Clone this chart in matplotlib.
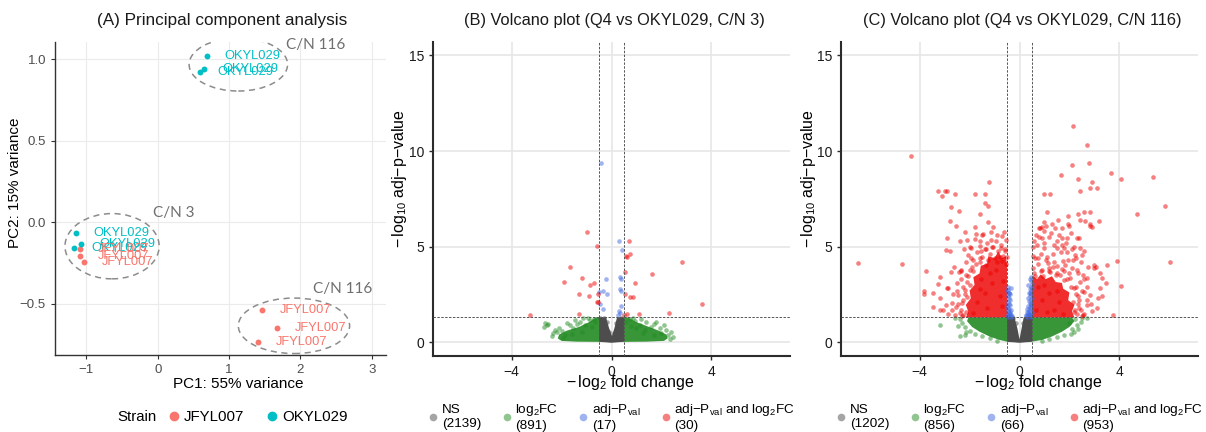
import matplotlib
matplotlib.use("Agg")
import matplotlib.pyplot as plt
from matplotlib.patches import Ellipse
from matplotlib.lines import Line2D
import numpy as np

plt.rcParams['font.family'] = ['Liberation Sans', 'DejaVu Sans']
plt.rcParams['mathtext.fontset'] = 'custom'
plt.rcParams['mathtext.rm'] = 'Liberation Sans'
plt.rcParams['mathtext.it'] = 'Liberation Sans:italic'
plt.rcParams['mathtext.bf'] = 'Liberation Sans:bold'

# ---------------- PCA data ----------------
pca_strain = ['OKYL029', 'OKYL029', 'OKYL029', 'OKYL029', 'OKYL029', 'OKYL029',
              'JFYL007', 'JFYL007', 'JFYL007', 'JFYL007', 'JFYL007', 'JFYL007']
pca_cn = [3, 3, 3, 116, 116, 116, 3, 3, 3, 116, 116, 116]
pc1 = [-1.152, -1.073, -1.175, 0.690, 0.650, 0.590, -1.096, -1.083, -1.035, 1.455, 1.670, 1.410]
pc2 = [-0.064, -0.135, -0.156, 1.022, 0.940, 0.920, -0.166, -0.205, -0.242, -0.536, -0.648, -0.736]
strain_levels = ['JFYL007', 'OKYL029']
pc1_var, pc2_var = 55, 15

# annotation ellipses (centre x, centre y, width, height) and their labels
ellipse_specs = [(1.13, 0.968, 1.38, 0.325), (-0.64, -0.146, 1.32, 0.40), (1.91, -0.634, 1.56, 0.34)]
ellipse_labels = ['C/N 116', 'C/N 3', 'C/N 116']
ellipse_label_pos = [(1.80, 1.09), (-0.07, 0.06), (2.17, -0.41)]

# ---------------- volcano thresholds ----------------
fc_cut = 0.5
p_cut = 0.05

# ---------------- Volcano B (C/N 3) ----------------
b_counts = [2139, 891, 17, 30]
b_red = [(-1.00, 5.75), (-0.60, 5.03), (0.72, 5.31), (0.57, 4.53), (0.73, 4.61), (0.64, 4.47),
         (2.84, 4.18), (-1.66, 3.92), (0.55, 3.69), (1.63, 3.55), (-1.17, 3.37), (-1.91, 3.15),
         (-0.87, 2.99), (-0.72, 3.11), (0.94, 3.11), (-1.32, 2.52), (-0.90, 2.43), (0.55, 2.52),
         (0.73, 2.38), (0.87, 2.37), (-0.58, 2.12), (-0.55, 2.09), (-0.55, 2.54), (3.64, 1.99),
         (2.32, 1.54), (1.09, 1.49), (-1.31, 1.46), (-3.28, 1.42), (0.63, 1.48), (0.52, 1.40)]
b_blue = [(0.29, 5.31), (0.42, 4.82), (-0.23, 3.29), (0.33, 3.39), (0.37, 3.30), (-0.49, 2.64),
          (-0.33, 2.67), (-0.17, 2.52), (0.36, 2.77), (0.40, 2.70), (-0.47, 1.98), (-0.33, 1.72),
          (0.40, 1.89), (0.31, 1.63), (0.36, 1.51), (0.28, 1.42), (-0.44, 9.38)]
b_green_core_l = [(-0.5, 1.3), (-0.62, 1.3), (-0.9, 1.05), (-1.3, 0.8), (-1.8, 0.6), (-2.1, 0.4),
                  (-2.15, 0.2), (-2.0, 0.07), (-1.4, 0.03), (-0.5, 0.02)]
b_green_core_r = [(0.5, 1.3), (0.65, 1.3), (1.0, 1.05), (1.5, 0.8), (1.9, 0.6), (2.2, 0.4),
                  (2.25, 0.2), (2.1, 0.07), (1.4, 0.03), (0.5, 0.02)]
b_green = [(-2.67, 0.99), (-2.60, 0.90), (-2.71, 0.82), (-2.53, 0.96), (-2.27, 0.64), (-2.20, 0.52),
           (-2.00, 0.59), (-2.33, 0.47), (-1.67, 0.90), (-1.47, 1.16), (-1.27, 1.08), (-1.07, 0.90),
           (-0.87, 1.16), (-0.67, 1.08), (-1.13, 1.25), (-1.53, 0.73), (-1.87, 0.38), (-1.93, 0.21),
           (-2.40, 0.30), (-1.80, 1.00), (-0.95, 1.28), (-0.70, 1.22), (-2.10, 0.75), (-1.40, 0.95),
           (0.60, 1.08), (0.87, 1.25), (1.13, 0.90), (1.40, 1.08), (1.60, 0.82), (1.80, 1.08),
           (1.93, 0.73), (2.09, 0.90), (2.20, 0.64), (2.40, 0.55), (2.47, 0.29), (2.00, 0.47),
           (2.27, 0.38), (1.00, 0.73), (1.33, 0.64), (0.75, 1.20), (1.20, 1.22), (2.35, 0.15),
           (1.70, 0.95), (0.95, 1.10), (-1.20, 0.55), (-0.80, 0.80), (1.25, 0.50), (0.80, 0.85),
           (-1.60, 0.45), (1.70, 0.40)]
b_ns_core = [(-0.5, 1.3), (-0.22, 1.3), (-0.1, 0.75), (0.02, 0.33), (0.12, 0.75), (0.22, 1.3),
             (0.5, 1.3), (0.5, 0.02), (0.25, 0.0), (0.0, -0.03), (-0.25, 0.0), (-0.5, 0.02)]
b_ns = [(-0.45, 1.27), (-0.30, 1.25), (0.40, 1.28), (0.30, 1.20), (-0.18, 1.05), (0.18, 1.00),
        (-0.12, 0.55), (0.10, 0.50)]

# ---------------- Volcano C (C/N 116) ----------------
c_counts = [1202, 856, 66, 953]
c_red_core_l = [(-0.5, 1.3), (-2.15, 1.3), (-2.05, 1.6), (-2.15, 1.95), (-1.95, 2.3), (-2.0, 2.7),
                (-1.8, 3.0), (-1.85, 3.4), (-1.6, 3.6), (-1.55, 4.0), (-1.3, 4.1), (-1.25, 4.5),
                (-1.0, 4.4), (-0.85, 4.75), (-0.7, 4.4), (-0.55, 4.5), (-0.5, 4.1)]
c_red_core_r = [(0.5, 1.3), (2.2, 1.3), (2.1, 1.6), (2.2, 1.95), (1.95, 2.2), (2.0, 2.6),
                (1.75, 2.8), (1.7, 3.1), (1.45, 3.15), (1.3, 3.45), (1.05, 3.3), (0.85, 3.55),
                (0.7, 3.3), (0.55, 3.45), (0.5, 3.0)]
c_red = [(-4.33, 9.75), (-1.24, 8.38), (-3.27, 7.90), (-3.10, 7.64), (-2.97, 7.90), (-2.92, 7.90),
         (-2.60, 7.76), (-1.77, 7.76), (-1.39, 7.76), (-1.39, 7.29), (-1.27, 7.10), (-2.76, 7.09),
         (-2.43, 6.88), (-1.57, 6.69), (-2.77, 6.34), (-1.25, 6.30), (-2.53, 6.08), (-6.47, 4.13),
         (-4.69, 4.07), (-3.76, 3.72), (-3.20, 3.41), (-3.83, 2.68), (-3.83, 2.50), (-3.47, 2.55),
         (-3.28, 3.03), (-2.92, 2.82), (-2.85, 2.84), (-3.20, 2.30), (-3.47, 1.86), (-3.17, 1.67),
         (-3.08, 1.67), (-2.96, 1.95), (-2.92, 5.47), (-2.96, 4.82), (-2.80, 4.77), (-2.20, 5.78),
         (-2.09, 5.35), (-1.76, 5.64), (-1.49, 5.60), (-1.16, 5.78), (-2.23, 4.90), (-2.63, 3.95),
         (-2.76, 3.69), (-2.43, 3.69), (-2.36, 3.70), (-2.16, 4.20),
         (-2.05, 4.55), (-1.95, 4.95), (-1.85, 4.30), (-1.70, 4.70), (-1.60, 5.05), (-1.50, 4.45),
         (-1.40, 4.85), (-1.30, 5.20), (-1.20, 4.60), (-1.10, 5.00), (-1.00, 4.40), (-0.95, 5.30),
         (-0.85, 4.75), (-0.75, 5.10), (-0.65, 4.50), (-0.60, 4.90), (-0.55, 5.35), (-0.70, 4.25),
         (-0.90, 4.20), (-1.25, 4.30), (-2.35, 3.30), (-2.25, 2.90), (-2.45, 2.45), (-2.30, 2.05),
         (-2.55, 1.85), (-2.40, 1.55), (-2.60, 1.40), (-2.25, 1.45), (-2.15, 3.50), (-2.00, 3.80),
         (-2.20, 2.50), (-2.50, 3.10), (-2.70, 2.05), (-2.35, 3.80), (-1.90, 3.95), (-2.10, 3.15),
         (-1.60, 4.20), (-1.35, 4.05), (-0.80, 4.45), (-0.55, 4.10), (-1.80, 5.40), (-0.70, 5.55),
         (-2.30, 1.35), (-2.35, 1.70), (-2.28, 2.20), (-2.45, 2.00), (-2.20, 2.75), (-2.00, 3.00),
         (-2.05, 3.45), (-1.85, 3.70), (-1.75, 4.10), (-1.60, 4.40), (-1.55, 4.75), (-1.35, 4.90),
         (-1.05, 5.00), (-0.75, 4.95), (-0.60, 4.75), (-0.52, 4.45), (-2.15, 1.60), (-2.50, 2.70),
         (-2.65, 2.50), (-2.70, 1.70), (-2.85, 1.50), (-2.10, 2.35), (-1.95, 4.40), (-1.15, 5.35),
         (-0.90, 5.60), (-1.60, 5.30), (-1.45, 5.65), (-0.62, 5.75), (-1.05, 6.00), (-1.80, 6.00),
         (-2.00, 5.00), (-2.40, 5.30),
         (-1.70, 2.10), (-1.40, 2.60), (-1.10, 3.10), (-0.80, 2.40), (-1.55, 3.30), (-0.95, 3.80),
         (-1.30, 1.80), (-0.65, 3.20), (-1.85, 1.55), (-1.20, 3.60), (-0.70, 1.90), (-1.60, 2.80),
         (2.16, 11.30), (2.71, 10.31), (2.79, 9.39), (2.11, 9.25), (1.67, 8.77), (3.68, 8.83),
         (4.07, 8.53), (5.33, 8.62), (2.36, 8.55), (2.92, 8.38), (2.81, 8.06), (3.12, 8.06),
         (2.44, 7.90), (0.99, 7.73), (1.23, 7.73), (5.81, 7.14), (1.11, 6.79), (2.36, 6.71),
         (2.59, 6.82), (2.84, 6.79), (1.95, 6.60), (4.71, 6.68), (2.41, 6.39), (2.61, 6.33),
         (3.17, 6.33), (2.84, 6.18), (2.92, 6.04), (1.95, 6.16), (0.97, 6.27), (1.07, 6.07),
         (0.81, 5.98), (0.92, 6.04), (1.71, 5.98), (6.01, 4.18), (3.91, 4.25), (4.07, 2.94),
         (3.73, 1.43), (3.51, 4.04), (3.48, 3.08), (3.24, 3.60), (3.32, 3.38), (3.31, 2.43),
         (3.13, 2.30), (2.91, 1.64), (3.00, 4.04), (3.08, 3.95), (2.73, 3.95), (2.84, 6.09),
         (2.37, 5.43), (2.44, 4.91), (2.57, 4.77), (2.24, 4.56), (2.71, 3.34), (2.55, 1.43),
         (0.77, 5.96), (1.44, 5.99), (0.91, 5.43), (1.71, 5.43), (1.91, 5.46), (2.31, 5.43),
         (0.97, 4.94), (1.51, 4.91), (1.77, 4.94), (2.11, 4.87), (2.28, 4.42), (2.51, 4.56),
         (0.64, 4.39), (1.11, 4.47), (1.37, 4.21), (1.84, 4.04), (1.24, 3.69), (1.64, 3.52),
         (2.04, 3.34), (2.44, 3.17), (2.17, 2.82), (2.57, 2.65), (2.84, 2.47), (2.37, 2.21),
         (2.71, 1.95), (3.11, 1.77), (2.24, 1.69), (3.24, 2.82), (2.97, 3.86),
         (0.60, 3.60), (0.75, 4.10), (0.90, 3.80), (1.05, 4.30), (1.20, 3.90), (1.35, 4.60),
         (1.50, 4.00), (1.65, 4.70), (1.80, 3.70), (1.95, 4.30), (2.10, 3.90), (0.70, 5.10),
         (0.85, 4.60), (1.00, 5.20), (1.20, 5.50), (1.40, 5.10), (1.60, 5.60), (1.85, 5.20),
         (2.05, 5.70), (2.20, 5.00), (0.65, 5.60), (1.30, 6.20), (1.55, 6.40), (2.00, 6.10),
         (0.55, 4.50), (1.75, 4.25), (0.95, 3.45), (1.45, 3.50), (1.90, 3.30), (2.25, 2.90),
         (2.35, 2.40), (2.15, 2.10), (2.40, 1.80), (2.60, 1.50), (2.20, 1.60), (2.70, 2.20),
         (2.50, 2.70), (2.60, 3.30), (2.35, 3.60), (2.45, 4.20),
         (2.30, 1.50), (2.35, 2.00), (2.25, 2.50), (2.05, 2.90), (1.80, 3.25), (1.50, 3.60),
         (1.20, 3.70), (0.85, 3.75), (0.62, 3.45), (0.55, 3.90), (2.50, 1.35), (2.45, 1.70),
         (2.00, 3.60), (1.70, 3.85), (1.35, 3.95), (0.75, 4.40), (1.15, 4.15), (0.55, 5.00),
         (0.60, 5.30), (0.80, 5.50), (1.00, 5.80), (1.25, 5.70), (1.50, 5.30), (1.70, 5.10),
         (1.90, 4.70), (2.15, 4.30), (2.30, 3.80), (2.55, 3.50), (2.70, 2.90), (2.85, 2.00),
         (1.60, 2.10), (1.20, 2.60), (0.90, 2.20), (1.40, 1.70), (0.75, 2.90), (1.10, 1.60),
         (1.75, 1.50), (1.50, 2.70), (0.65, 1.70), (1.00, 3.00)]
c_blue = [(-0.47, 2.90), (-0.45, 2.75), (-0.42, 2.60), (-0.36, 2.85), (-0.38, 2.50), (-0.48, 2.40),
          (-0.44, 2.30), (-0.40, 2.20), (-0.47, 2.10), (-0.43, 2.00), (-0.37, 1.95), (-0.49, 1.90),
          (-0.45, 1.80), (-0.41, 1.75), (-0.35, 1.70), (-0.47, 1.65), (-0.43, 1.55), (-0.39, 1.50),
          (-0.33, 1.45), (-0.48, 1.45), (-0.45, 1.40), (-0.41, 1.36), (-0.36, 1.33), (-0.30, 1.38),
          (-0.47, 1.33), (-0.44, 2.55), (-0.49, 2.70), (-0.40, 1.60),
          (0.48, 3.40), (0.46, 3.20), (0.49, 3.05), (0.45, 2.90), (0.42, 2.80), (0.48, 2.70),
          (0.44, 2.60), (0.47, 2.50), (0.41, 2.40), (0.49, 2.30), (0.45, 2.20), (0.38, 2.15),
          (0.43, 2.05), (0.48, 1.95), (0.35, 1.90), (0.41, 1.85), (0.46, 1.80), (0.30, 1.75),
          (0.38, 1.70), (0.44, 1.65), (0.49, 1.60), (0.33, 1.55), (0.40, 1.50), (0.46, 1.45),
          (0.27, 1.45), (0.36, 1.40), (0.42, 1.36), (0.48, 1.33), (0.31, 1.33), (0.25, 1.35),
          (0.39, 2.60), (0.36, 3.00), (0.47, 2.00), (0.44, 3.30), (0.29, 1.60), (0.34, 2.30),
          (0.43, 1.45), (0.50, 2.85)]
c_green_core_l = [(-0.5, 1.3), (-2.05, 1.3), (-2.1, 1.1), (-1.9, 0.8), (-1.6, 0.55), (-1.2, 0.3),
                  (-0.8, 0.12), (-0.5, 0.03)]
c_green_core_r = [(0.5, 1.3), (2.1, 1.3), (2.2, 1.1), (2.0, 0.8), (1.7, 0.55), (1.3, 0.3),
                  (0.9, 0.12), (0.5, 0.03)]
c_green = [(-3.20, 0.90), (-2.39, 0.33), (-2.20, 0.38), (-2.30, 1.00), (-2.40, 1.20), (-2.20, 0.80),
           (-2.00, 0.60), (-1.80, 0.45), (-1.50, 0.30), (-2.60, 1.25), (-2.45, 0.85), (-1.20, 0.20),
           (-0.90, 0.08), (-2.15, 0.55),
           (2.17, 0.52), (2.24, 1.22), (1.97, 0.99), (2.30, 0.90), (2.50, 1.25), (2.45, 1.05),
           (2.10, 0.70), (1.80, 0.40), (1.50, 0.25), (2.05, 0.45), (2.70, 1.28), (1.20, 0.18),
           (0.90, 0.08), (2.35, 0.70)]
c_ns_core = [(-0.5, 1.3), (-0.2, 1.3), (-0.08, 0.7), (0.0, 0.15), (0.08, 0.7), (0.17, 1.3),
             (0.5, 1.3), (0.5, 0.02), (0.25, 0.0), (0.0, -0.03), (-0.25, 0.0), (-0.5, 0.02)]
c_ns = [(-0.42, 1.28), (-0.28, 1.25), (0.40, 1.28), (0.26, 1.22), (-0.15, 1.00), (0.13, 1.00)]

# ---------------- styles ----------------
W, H = 1206, 432
strain_colors = {'JFYL007': '#F8766D', 'OKYL029': '#00BFC4'}
col_ns, col_fc, col_p, col_both = '#4D4D4D', '#228B22', '#4169E1', '#EE0000'
core_style = {'ns': ('#4D4D4D', 1.0), 'fc': ('#228B22', 0.9), 'both': ('#EE0000', 0.82)}

fig = plt.figure(figsize=(W / 100, H / 100), dpi=100)


def px_axes(l, t, r, b):
    return fig.add_axes([l / W, 1 - b / H, (r - l) / W, (b - t) / H])


# ================= Panel A =================
axA = px_axes(55, 42, 386, 355)
axA.set_xlim(-1.44, 3.2)
axA.set_ylim(-0.813, 1.106)
axA.set_xticks([-1, 0, 1, 2, 3])
axA.set_xticklabels(['\u22121', '0', '1', '2', '3'])
axA.set_yticks([-0.5, 0.0, 0.5, 1.0])
axA.set_yticklabels(['\u22120.5', '0.0', '0.5', '1.0'])
axA.grid(True, color='#EBEBEB', lw=0.8)
axA.set_axisbelow(True)
for s in ['top', 'right']:
    axA.spines[s].set_visible(False)
for s in ['left', 'bottom']:
    axA.spines[s].set_color('#333333')
    axA.spines[s].set_linewidth(1.0)
axA.tick_params(length=3, width=0.8, color='#333333', labelcolor='#4D4D4D', labelsize=9.5)

for st in strain_levels:
    idx = [i for i, s in enumerate(pca_strain) if s == st]
    axA.scatter([pc1[i] for i in idx], [pc2[i] for i in idx], s=18, color=strain_colors[st],
                lw=0, zorder=3)
label_dx = 0.25
for i in range(len(pc1)):
    axA.text(pc1[i] + label_dx, pc2[i], pca_strain[i], color=strain_colors[pca_strain[i]],
             fontsize=9.3, ha='left', va='center', zorder=4)
for (cx, cy, ew, eh), lab, (lx, ly) in zip(ellipse_specs, ellipse_labels, ellipse_label_pos):
    axA.add_patch(Ellipse((cx, cy), ew, eh, fill=False, ls=(0, (4, 3)), ec='#8C8C8C', lw=1.1,
                          zorder=2))
    axA.text(lx, ly, lab, color='#6E6E6E', fontsize=11, family=['Lato', 'DejaVu Sans'],
             ha='left', va='center')

axA.set_xlabel(f'PC1: {pc1_var}% variance', fontsize=11)
axA.xaxis.set_label_coords((238 - 55) / 331, (355 - 384) / 313)
axA.xaxis.label.set_va('center')
axA.set_ylabel(f'PC2: {pc2_var}% variance', fontsize=11)
axA.yaxis.set_label_coords((15 - 55) / 331, (355 - 183) / 313)
axA.yaxis.label.set_va('center')
fig.text(222 / W, 1 - 21 / H, '(A) Principal component analysis', fontsize=12.3,
         ha='center', va='center', color='#1A1A1A')

# legend A
fig.text(117 / W, 1 - 417 / H, 'Strain', fontsize=10.8, ha='left', va='center')
hA = [Line2D([], [], ls='', marker='o', ms=6, color=strain_colors[s]) for s in strain_levels]
axA.legend(hA, strain_levels, ncol=2, frameon=False, fontsize=10.8, loc='center left',
           bbox_to_anchor=((169 - 55) / 331, (355 - 417) / 313), borderpad=0, handlelength=0.7,
           handletextpad=0.3, columnspacing=1.5, borderaxespad=0)


# ================= Volcano panels =================
def pts(ax, data, color, z=3):
    xs = [p[0] for p in data]
    ys = [p[1] for p in data]
    ax.scatter(xs, ys, s=11, color=color, alpha=0.5, lw=0, zorder=z)


def core(ax, poly, kind):
    color, a = core_style[kind]
    xs = [p[0] for p in poly]
    ys = [p[1] for p in poly]
    ax.fill(xs, ys, color=color, alpha=a, lw=0, zorder=2)


def volcano(ax, title, counts, ns_core, ns, fc_cores, fc, pv, both_cores, both):
    ax.set_xlim(-7.15, 7.15)
    ax.set_ylim(-0.72, 15.7)
    ax.set_xticks([-4, 0, 4])
    ax.set_xticklabels(['\u22124', '0', '4'])
    ax.set_yticks([0, 5, 10, 15])
    ax.grid(True, color='#E6E6E6', lw=1.2)
    ax.set_axisbelow(True)
    for s in ['top', 'right']:
        ax.spines[s].set_visible(False)
    for s in ['left', 'bottom']:
        ax.spines[s].set_color('#2B2B2B')
        ax.spines[s].set_linewidth(1.5)
    ax.tick_params(length=3, width=1, color='#2B2B2B', labelcolor='#1A1A1A', labelsize=10)

    core(ax, ns_core, 'ns')
    for c in fc_cores:
        core(ax, c, 'fc')
    for c in both_cores:
        core(ax, c, 'both')
    pts(ax, ns, col_ns)
    pts(ax, fc, col_fc)
    pts(ax, pv, col_p)
    pts(ax, both, col_both)

    for xv in (-fc_cut, fc_cut):
        ax.axvline(xv, color='#555555', lw=0.7, ls=(0, (2.5, 1.5)), zorder=5)
    ax.axhline(-np.log10(p_cut), color='#555555', lw=0.7, ls=(0, (2.5, 1.5)), zorder=5)

    ax.set_xlabel(r'$-\,\mathrm{log}_{2}$ fold change', fontsize=11.5)
    ax.xaxis.set_label_coords(0.552, (356 - 383) / 314)
    ax.xaxis.label.set_va('center')
    ax.set_ylabel(r'$-\,\mathrm{log}_{10}$ adj$-$p$-$value', fontsize=11.5)
    ax.yaxis.set_label_coords(-33 / 357, 0.565)
    ax.yaxis.label.set_va('center')
    bb = ax.get_position()
    fig.text(bb.x0 + bb.width / 2 + 3 / W, 1 - 21 / H, title, fontsize=11.8, ha='center',
             va='center', color='#1A1A1A')

    labels = ['NS\n(%d)' % counts[0],
              'log$_{2}$FC\n(%d)' % counts[1],
              'adj$-$P$_{\\mathrm{val}}$\n(%d)' % counts[2],
              'adj$-$P$_{\\mathrm{val}}$ and log$_{2}$FC\n(%d)' % counts[3]]
    handles = [Line2D([], [], ls='', marker='o', ms=5.5, color=c, alpha=0.5, mew=0)
               for c in (col_ns, col_fc, col_p, col_both)]
    ax.legend(handles, labels, ncol=4, frameon=False, fontsize=9.7, loc='center left',
              bbox_to_anchor=(-0.01, (356 - 417) / 314), borderpad=0, handlelength=0.6,
              handletextpad=0.35, columnspacing=1.55, borderaxespad=0, labelspacing=0.2)


axB = px_axes(433, 42, 790, 356)
volcano(axB, '(B) Volcano plot (Q4 vs OKYL029, C/N 3)', b_counts, b_ns_core, b_ns,
        [b_green_core_l, b_green_core_r], b_green, b_blue, [], b_red)

axC = px_axes(841, 42, 1198, 356)
volcano(axC, '(C) Volcano plot (Q4 vs OKYL029, C/N 116)', c_counts, c_ns_core, c_ns,
        [c_green_core_l, c_green_core_r], c_green, c_blue, [c_red_core_l, c_red_core_r], c_red)

fig.savefig('out.png', dpi=100)
